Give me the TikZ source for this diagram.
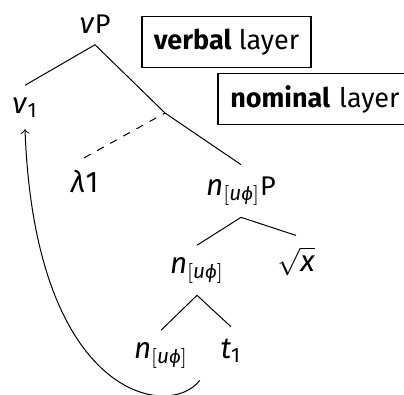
\documentclass[tikz,border=0pt]{standalone}
\usepackage{amsmath}
\usepackage{mathspec}
\setmainfont{Fira Sans}
\setmathsfont(Digits,Latin,Greek)[Scale=1.1]{Fira Sans}
\usepackage{tikz}

\newcommand{\uphi}{[u\text{\itshape ϕ}]}

\begin{document}
\begin{tikzpicture}[>=to, x=0.4pt, y=-0.4pt, font=\fontsize{10.8}{13}\selectfont,
    lbl/.style={anchor=base, inner sep=4.5pt},
    layerbox/.style={draw, semithick, minimum height=20.5pt, inner xsep=4pt}]
    \useasboundingbox (0,0) rectangle (404,394);

    % 层的标签
    \node[layerbox, minimum width=67.6pt] (verbal) at (226.5,42) {\textbf{verbal} layer};
    \node[layerbox, anchor=west, inner xsep=5pt, text width=100pt, align=left] (nominal) at (217,99) {\textbf{nominal} layer};

    % 树的节点
    \node[lbl] (vP) at (95,33) {$\nu$P};
    \node[lbl] (v1) at (25,113) {$\nu_1$};
    \coordinate (mid) at (165,113);
    \node[lbl] (lam) at (84,192) {$\lambda1$};
    \node[lbl] (nP) at (241,195) {$n_{\uphi}$P};
    \node[lbl] (nmid) at (197,273) {$n_{\uphi}$};
    \node[lbl] (root) at (296,271) {$\sqrt{x}$};
    \node[lbl] (nlow) at (161,358) {$n_{\uphi}$};
    \node[lbl] (t1) at (231,358) {$t_1$};

    % 树枝
    \draw (v1.north) -- (vP.south) -- (mid) -- (nP.north);
    \draw[dashed] (lam.north) -- (mid);
    \draw (nmid.north) -- (nP.south) -- (root.north);
    \draw (nlow.north) -- (nmid.south) -- (t1.north);

    % 移位
    \draw[->] (nlow.south east) .. controls (170,420) and (35,400) .. (v1.south);
\end{tikzpicture}
\end{document}
